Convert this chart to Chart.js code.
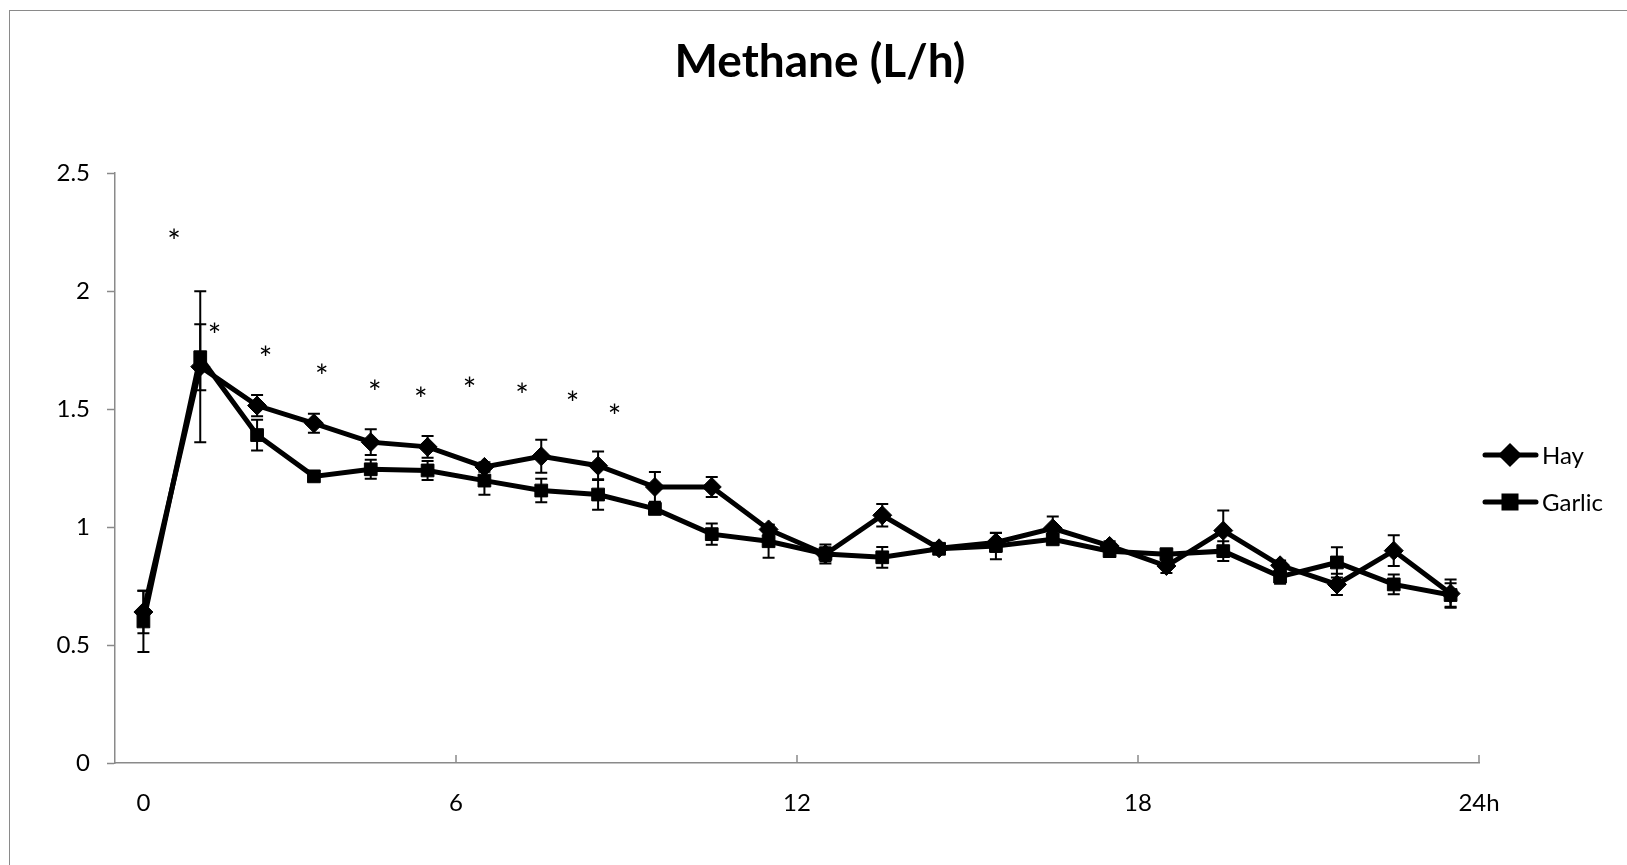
<!DOCTYPE html>
<html>
<head>
<meta charset="utf-8">
<script src="https://cdn.jsdelivr.net/npm/chart.js@4/dist/chart.umd.min.js"></script>
<style>
  html, body { margin: 0; padding: 0; background: #fff; overflow: hidden; }
  #wrap { position: relative; width: 1627px; height: 865px; }
  #frame { position: absolute; left: 9px; top: 10px; width: 2000px; height: 2000px;
           border: 1px solid #8a8a8a; pointer-events: none; }
</style>
</head>
<body>
<div id="wrap">
  <canvas id="chart" width="1627" height="865"></canvas>
  <div id="frame"></div>
</div>
<script>
// Sampling hours (one point per hour)
const hours = [0, 1, 2, 3, 4, 5, 6, 7, 8, 9, 10, 11, 12, 13, 14, 15, 16, 17, 18, 19, 20, 21, 22, 23];

// Methane (L/h) - Hay
const hay = [0.64, 1.68, 1.515, 1.44, 1.36, 1.34, 1.255, 1.30, 1.26, 1.17, 1.17, 0.99, 0.885, 1.05,
             0.91, 0.935, 0.995, 0.92, 0.835, 0.985, 0.838, 0.757, 0.90, 0.718];
const hayErr = [0.09, 0.32, 0.045, 0.04, 0.055, 0.046, 0.02, 0.07, 0.06, 0.063, 0.042, 0.02, 0.03, 0.048,
                0.015, 0.04, 0.05, 0.02, 0.03, 0.085, 0.02, 0.045, 0.065, 0.06];

// Methane (L/h) - Garlic
const garlic = [0.60, 1.72, 1.39, 1.215, 1.245, 1.24, 1.197, 1.155, 1.138, 1.077, 0.97, 0.94, 0.886, 0.872,
                0.908, 0.92, 0.948, 0.898, 0.885, 0.898, 0.79, 0.85, 0.757, 0.712];
const garlicErr = [0.13, 0.14, 0.065, 0.02, 0.04, 0.04, 0.06, 0.05, 0.065, 0.02, 0.045, 0.07, 0.04, 0.044,
                   0.015, 0.056, 0.02, 0.02, 0.02, 0.042, 0.03, 0.064, 0.042, 0.05];

// Significance marks (*), in data coordinates
const starX = [0.54, 1.25, 2.15, 3.14, 4.07, 4.88, 5.74, 6.66, 7.55, 8.29];
const starY = [2.237, 1.839, 1.742, 1.665, 1.60, 1.568, 1.612, 1.585, 1.551, 1.496];

// X axis ticks
const xTickValues = [0, 5.5, 11.5, 17.5, 23.5];
const xTickLabels = ['0', '6', '12', '18', '24h'];

const axisGray = '#8a8a8a';
const tickFont = { family: 'Lato, "Open Sans", sans-serif', size: 24 };

function toPoints(values) {
    return hours.map((h, i) => ({ x: h, y: values[i] }));
}

// Error bars drawn from the series values and their errors
const errorBars = {
    id: 'errorBars',
    afterDatasetsDraw(chart) {
        const ctx = chart.ctx;
        const yScale = chart.scales.y;
        const errs = [hayErr, garlicErr];
        ctx.save();
        ctx.strokeStyle = '#000';
        ctx.lineWidth = 2;
        chart.data.datasets.forEach((ds, d) => {
            const meta = chart.getDatasetMeta(d);
            meta.data.forEach((pt, i) => {
                const v = ds.data[i].y;
                const top = yScale.getPixelForValue(v + errs[d][i]);
                const bot = yScale.getPixelForValue(v - errs[d][i]);
                ctx.beginPath();
                ctx.moveTo(pt.x, top);
                ctx.lineTo(pt.x, bot);
                ctx.moveTo(pt.x - 6, top);
                ctx.lineTo(pt.x + 6, top);
                ctx.moveTo(pt.x - 6, bot);
                ctx.lineTo(pt.x + 6, bot);
                ctx.stroke();
            });
        });
        ctx.restore();
    }
};

// Asterisks, inward x tick marks and the legend
const extras = {
    id: 'extras',
    afterDraw(chart) {
        const ctx = chart.ctx;
        const xs = chart.scales.x;
        const ys = chart.scales.y;
        ctx.save();

        // x tick marks point into the plot
        ctx.strokeStyle = axisGray;
        ctx.lineWidth = 1.5;
        xs.ticks.forEach((t, i) => {
            if (i === 0) return;
            const px = xs.getPixelForValue(t.value);
            ctx.beginPath();
            ctx.moveTo(px, ys.bottom);
            ctx.lineTo(px, ys.bottom - 8);
            ctx.stroke();
        });

        // asterisks
        ctx.fillStyle = '#000';
        ctx.font = '32px Lato, "Open Sans", sans-serif';
        ctx.textAlign = 'center';
        ctx.textBaseline = 'alphabetic';
        starX.forEach((sx, i) => {
            ctx.fillText('*', xs.getPixelForValue(sx), ys.getPixelForValue(starY[i]) + 18);
        });

        // legend
        const items = [
            { label: 'Hay', style: 'rectRot', y: 455 },
            { label: 'Garlic', style: 'rect', y: 502 }
        ];
        ctx.font = '24px Lato, "Open Sans", sans-serif';
        ctx.textAlign = 'left';
        ctx.textBaseline = 'middle';
        items.forEach(it => {
            ctx.strokeStyle = '#000';
            ctx.lineWidth = 5;
            ctx.lineCap = 'round';
            ctx.beginPath();
            ctx.moveTo(1485, it.y);
            ctx.lineTo(1536, it.y);
            ctx.stroke();
            ctx.fillStyle = '#000';
            Chart.helpers.drawPoint(ctx, { pointStyle: it.style, radius: 8.5, borderWidth: 1, rotation: 0 }, 1510, it.y);
            ctx.fill();
            ctx.fillStyle = '#000';
            ctx.fillText(it.label, 1542, it.y + 1);
        });
        ctx.restore();
    }
};

new Chart(document.getElementById('chart'), {
    type: 'line',
    data: {
        datasets: [
            {
                label: 'Hay',
                data: toPoints(hay),
                borderColor: '#000',
                backgroundColor: '#000',
                borderWidth: 5,
                pointStyle: 'rectRot',
                pointRadius: 9.5,
                pointBorderWidth: 1,
                order: 1,
            },
            {
                label: 'Garlic',
                data: toPoints(garlic),
                borderColor: '#000',
                backgroundColor: '#000',
                borderWidth: 5,
                pointStyle: 'rect',
                pointRadius: 9,
                pointBorderWidth: 1,
                order: 0,
            }
        ]
    },
    options: {
        responsive: false,
        animation: false,
        devicePixelRatio: 1,
        layout: { padding: { left: 13, right: 0, top: 0, bottom: 0 } },
        plugins: {
            legend: { display: false },
            tooltip: { enabled: false },
            title: {
                display: true,
                text: 'Methane (L/h)',
                color: '#000',
                font: { family: 'Lato, "Open Sans", sans-serif', size: 46, weight: 'bold', lineHeight: 1.2 },
                padding: { top: 35, bottom: 83 },
            },
        },
        scales: {
            x: {
                type: 'linear',
                min: -0.5,
                max: 23.5,
                afterBuildTicks: scale => {
                    scale.ticks = xTickValues.map(v => ({ value: v }));
                },
                afterFit: scale => { scale.height = 102; },
                ticks: {
                    autoSkip: false,
                    maxRotation: 0,
                    color: '#000',
                    font: tickFont,
                    padding: 26,
                    callback: (value, index) => xTickLabels[index],
                },
                grid: { drawOnChartArea: false, drawTicks: false },
                border: { display: true, color: axisGray, width: 1.5 },
            },
            y: {
                min: 0,
                max: 2.5,
                afterFit: scale => { scale.width = 102; },
                ticks: {
                    stepSize: 0.5,
                    color: '#000',
                    font: tickFont,
                    padding: 17,
                    callback: value => String(Math.round(value * 10) / 10),
                },
                grid: { drawOnChartArea: false, drawTicks: true, tickLength: 8, tickColor: axisGray, tickWidth: 1.5 },
                border: { display: true, color: axisGray, width: 1.5 },
            },
            // empty box on the right that keeps room for the legend
            side: {
                type: 'linear',
                position: 'right',
                display: true,
                afterFit: scale => { scale.width = 148; },
                ticks: { display: false },
                grid: { display: false },
                border: { display: false },
            }
        }
    },
    plugins: [errorBars, extras]
});
</script>
</body>
</html>
